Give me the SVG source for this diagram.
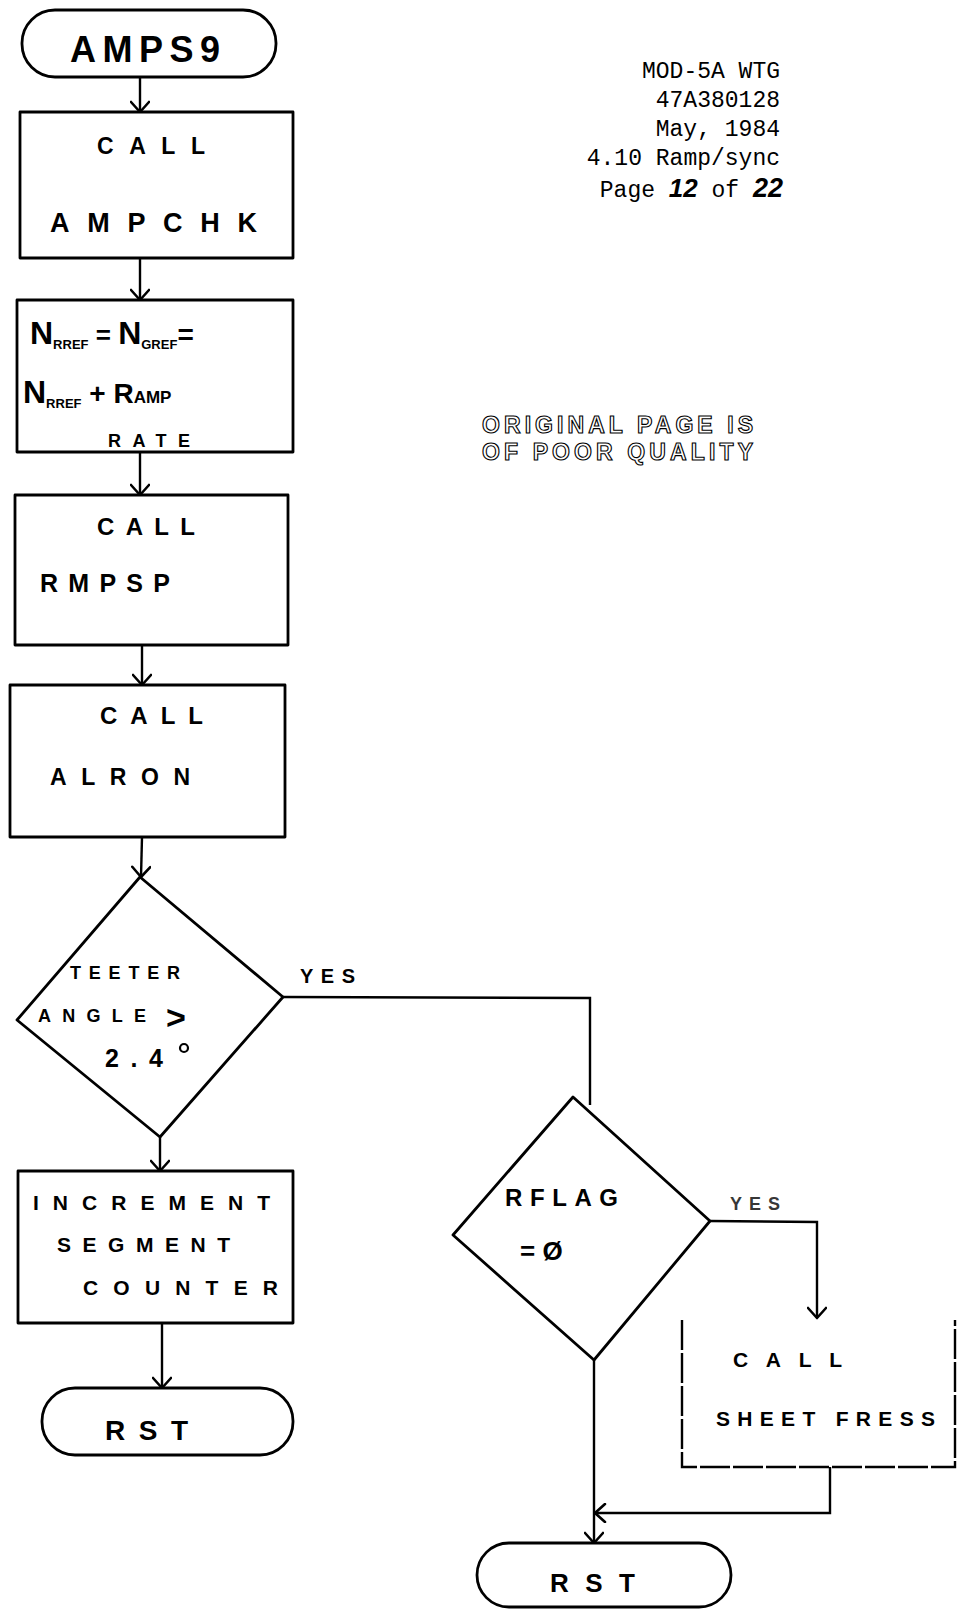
<svg xmlns="http://www.w3.org/2000/svg" width="960" height="1609" viewBox="0 0 960 1609">
  <defs>
    <!-- open chevron arrowhead, tip at the end of the line -->
    <marker id="arrow" viewBox="0 0 20 20" refX="18" refY="10" markerWidth="20" markerHeight="20" markerUnits="userSpaceOnUse" orient="auto">
      <path d="M8,1 L18,10 L8,19" fill="none" stroke="#000" stroke-width="2.6" stroke-linecap="round" stroke-linejoin="round"/>
    </marker>
  </defs>
  <style>
    .shape { fill: #fff; stroke: #000; stroke-width: 2.8; stroke-linejoin: round; }
    .open { fill: none; stroke: #000; stroke-width: 2.4; }
    .conn { fill: none; stroke: #000; stroke-width: 2.4; }
    .hand { font-family: "Liberation Sans", "DejaVu Sans", sans-serif; font-weight: bold; fill: #000; }
    .sub { font-family: "Liberation Sans", "DejaVu Sans", sans-serif; font-weight: bold; fill: #000; font-size: 13px; }
    .head { font-family: "Liberation Mono", "DejaVu Sans Mono", monospace; font-size: 23px; fill: #000; text-anchor: end; }
    .stamp { font-family: "Liberation Sans", "DejaVu Sans", sans-serif; font-weight: bold; font-size: 23px; fill: #fff; stroke: #000; stroke-width: 1.1; }
  </style>

  <rect width="960" height="1609" fill="#fff"/>

  <!-- document header -->
  <g id="header">
    <text class="head" x="780" y="78">MOD-5A WTG</text>
    <text class="head" x="780" y="107">47A380128</text>
    <text class="head" x="780" y="136">May, 1984</text>
    <text class="head" x="780" y="165">4.10 Ramp/sync</text>
    <text class="head" x="783" y="197">Page <tspan font-family="Liberation Sans, sans-serif" font-style="italic" font-weight="bold" font-size="26">12</tspan> of <tspan font-family="Liberation Sans, sans-serif" font-style="italic" font-weight="bold" font-size="27">22</tspan></text>
  </g>

  <g id="stamp">
    <text class="stamp" x="482" y="433" textLength="271" lengthAdjust="spacing">ORIGINAL PAGE IS</text>
    <text class="stamp" x="482" y="460" textLength="271" lengthAdjust="spacing">OF POOR QUALITY</text>
  </g>

  <!-- connectors -->
  <g id="connectors">
    <path class="conn" d="M140,77 L140,112" marker-end="url(#arrow)"/>
    <path class="conn" d="M140,258 L140,300" marker-end="url(#arrow)"/>
    <path class="conn" d="M140,452 L140,495" marker-end="url(#arrow)"/>
    <path class="conn" d="M142,645 L142,685" marker-end="url(#arrow)"/>
    <path class="conn" d="M142,837 L141,877" marker-end="url(#arrow)"/>
    <path class="conn" d="M160,1137 L160,1171" marker-end="url(#arrow)"/>
    <path class="conn" d="M162,1323 L162,1388" marker-end="url(#arrow)"/>
    <path class="conn" d="M283,997 L590,998 L590,1105"/>
    <path class="conn" d="M710,1221 L817,1222 L817,1318" marker-end="url(#arrow)"/>
    <path class="conn" d="M594,1360 L594,1543" marker-end="url(#arrow)"/>
    <path class="conn" d="M830,1467 L830,1513 L595,1513" marker-end="url(#arrow)"/>
    <text class="hand" x="300" y="983" font-size="20" textLength="55" lengthAdjust="spacing">YES</text>
    <text class="hand" x="730" y="1210" font-size="18" textLength="50" lengthAdjust="spacing" fill-opacity="0.8">YES</text>
  </g>

  <g id="start">
    <rect class="shape" x="22" y="10" width="254" height="67" rx="33"/>
    <text class="hand" x="70" y="62" font-size="36" textLength="150" lengthAdjust="spacing">AMPS9</text>
  </g>

  <g id="call-ampchk">
    <rect class="shape" x="20" y="112" width="273" height="146"/>
    <text class="hand" x="97" y="154" font-size="23" textLength="108" lengthAdjust="spacing">CALL</text>
    <text class="hand" x="50" y="232" font-size="27" textLength="207" lengthAdjust="spacing">AMPCHK</text>
  </g>

  <g id="update-ref">
    <rect class="shape" x="17" y="300" width="276" height="152"/>
    <text class="hand" x="30" y="344" font-size="32">N<tspan class="sub" dy="5">RREF</tspan><tspan dy="-5" font-size="26"> = </tspan>N<tspan class="sub" dy="5">GREF</tspan><tspan dy="-5" font-size="28">=</tspan></text>
    <text class="hand" x="23" y="403" font-size="32">N<tspan class="sub" dy="5">RREF</tspan><tspan dy="-5" font-size="28"> + </tspan><tspan font-size="28">R</tspan><tspan font-size="17">AMP</tspan></text>
    <text class="hand" x="108" y="447" font-size="18" textLength="82" lengthAdjust="spacing">RATE</text>
  </g>

  <g id="call-rmpsp">
    <rect class="shape" x="15" y="495" width="273" height="150"/>
    <text class="hand" x="97" y="535" font-size="24" textLength="98" lengthAdjust="spacing">CALL</text>
    <text class="hand" x="40" y="592" font-size="25" textLength="130" lengthAdjust="spacing">RMPSP</text>
  </g>

  <g id="call-alron">
    <rect class="shape" x="10" y="685" width="275" height="152"/>
    <text class="hand" x="100" y="724" font-size="24" textLength="103" lengthAdjust="spacing">CALL</text>
    <text class="hand" x="50" y="785" font-size="23" textLength="140" lengthAdjust="spacing">ALRON</text>
  </g>

  <g id="teeter-check">
    <polygon class="shape" points="140,877 283,997 160,1137 17,1020"/>
    <text class="hand" x="70" y="979" font-size="18" textLength="110" lengthAdjust="spacing">TEETER</text>
    <text class="hand" x="38" y="1022" font-size="18" textLength="108" lengthAdjust="spacing">ANGLE</text>
    <text class="hand" x="166" y="1029" font-size="34">&gt;</text>
    <text class="hand" x="105" y="1067" font-size="25" textLength="58" lengthAdjust="spacing">2.4</text>
    <circle cx="184" cy="1048" r="4" fill="none" stroke="#000" stroke-width="2.2"/>
  </g>

  <g id="increment-segment">
    <rect class="shape" x="18" y="1171" width="275" height="152"/>
    <text class="hand" x="33" y="1210" font-size="21" textLength="237" lengthAdjust="spacing">INCREMENT</text>
    <text class="hand" x="57" y="1252" font-size="21" textLength="173" lengthAdjust="spacing">SEGMENT</text>
    <text class="hand" x="83" y="1295" font-size="21" textLength="195" lengthAdjust="spacing">COUNTER</text>
  </g>

  <g id="rst-left">
    <rect class="shape" x="42" y="1388" width="251" height="67" rx="33"/>
    <text class="hand" x="105" y="1440" font-size="28" textLength="83" lengthAdjust="spacing">RST</text>
  </g>

  <g id="rflag-check">
    <polygon class="shape" points="573,1097 710,1221 594,1360 453,1235"/>
    <text class="hand" x="505" y="1206" font-size="24" textLength="113" lengthAdjust="spacing">RFLAG</text>
    <text class="hand" x="520" y="1260" font-size="26">= Ø</text>
  </g>

  <g id="call-sheet-press">
    <path class="open" d="M682,1320 L682,1467 L955,1467 L955,1320" stroke-dasharray="30 3"/>
    <text class="hand" x="733" y="1367" font-size="21" textLength="109" lengthAdjust="spacing">CALL</text>
    <text class="hand" x="716" y="1426" font-size="21" textLength="219" lengthAdjust="spacing">SHEET  FRESS</text>
  </g>

  <g id="rst-right">
    <rect class="shape" x="477" y="1543" width="254" height="64" rx="32"/>
    <text class="hand" x="550" y="1592" font-size="26" textLength="85" lengthAdjust="spacing">RST</text>
  </g>
</svg>
